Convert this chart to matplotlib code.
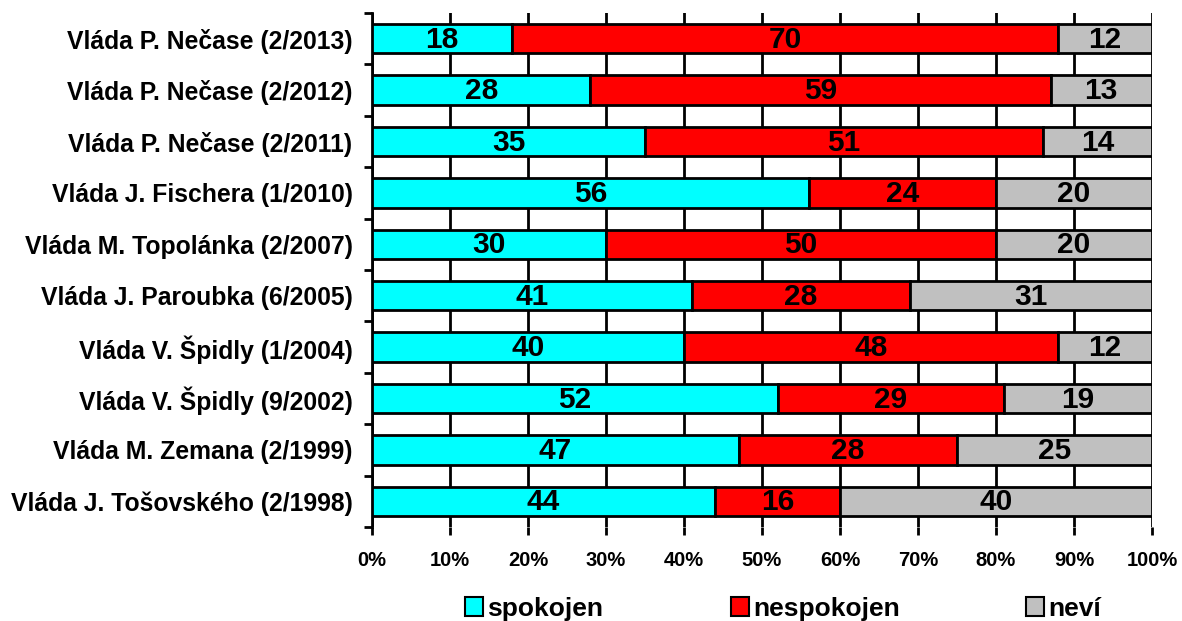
import matplotlib
matplotlib.use("Agg")
import matplotlib.pyplot as plt
import numpy as np
from matplotlib.patches import Patch

plt.rcParams['font.family'] = ['Liberation Sans', 'DejaVu Sans']

categories = [
    "Vláda P. Nečase (2/2013)",
    "Vláda P. Nečase (2/2012)",
    "Vláda P. Nečase (2/2011)",
    "Vláda J. Fischera (1/2010)",
    "Vláda M. Topolánka (2/2007)",
    "Vláda J. Paroubka (6/2005)",
    "Vláda V. Špidly (1/2004)",
    "Vláda V. Špidly (9/2002)",
    "Vláda M. Zemana (2/1999)",
    "Vláda J. Tošovského (2/1998)",
]
spokojen = [18, 28, 35, 56, 30, 41, 40, 52, 47, 44]
nespokojen = [70, 59, 51, 24, 50, 28, 48, 29, 28, 16]
nevi = [12, 13, 14, 20, 20, 31, 12, 19, 25, 40]
series_names = ["spokojen", "nespokojen", "neví"]
colors = ["#00FFFF", "#FF0000", "#C0C0C0"]

fig = plt.figure(figsize=(11.82, 6.21), dpi=100)
ax = fig.add_axes([372/1182, 1-527/621, 780/1182, 514/621])

y = np.arange(len(categories))
left = np.zeros(len(categories))
for vals, col in zip([spokojen, nespokojen, nevi], colors):
    vals = np.array(vals, dtype=float)
    ax.barh(y, vals, left=left, height=0.57, color=col, edgecolor='black', linewidth=2, zorder=3)
    for yi, l, v in zip(y, left, vals):
        ax.text(l + v/2, yi + 0.02, f"{int(v)}", ha='center', va='center', fontsize=21.5,
                fontweight='bold', zorder=4)
    left += vals

ax.set_xlim(0, 100)
ax.set_ylim(len(categories)-0.5, -0.5)
ax.set_xticks(np.arange(0, 101, 10))
ax.set_xticklabels([f"{v}%" for v in range(0, 101, 10)], fontsize=14.5, fontweight='bold')
ax.xaxis.grid(True, color='black', linewidth=2, zorder=0)
ax.tick_params(axis='x', length=6, width=2, pad=11)

ax.set_yticks(np.arange(-0.5, len(categories), 1.0))
ax.set_yticklabels([])
ax.set_yticks(y, minor=True)
ax.set_yticklabels(categories, minor=True, fontsize=17.8, fontweight='bold')
ax.tick_params(axis='y', which='major', length=6, width=2)
ax.tick_params(axis='y', which='minor', length=0, pad=14)

for s in ['top', 'right', 'bottom']:
    ax.spines[s].set_visible(False)
ax.spines['left'].set_linewidth(2)

for name, col, xpos in zip(series_names, colors, [465, 731, 1026]):
    h = Patch(facecolor=col, edgecolor='black', linewidth=1.5)
    fig.legend([h], [name], loc='center left', bbox_to_anchor=(xpos/1182, 1-609/621),
               frameon=False, handlelength=0.68, handleheight=0.75, handletextpad=0.15,
               borderpad=0, borderaxespad=0, prop={'weight': 'bold', 'size': 19})

fig.savefig("out.png", dpi=100)
